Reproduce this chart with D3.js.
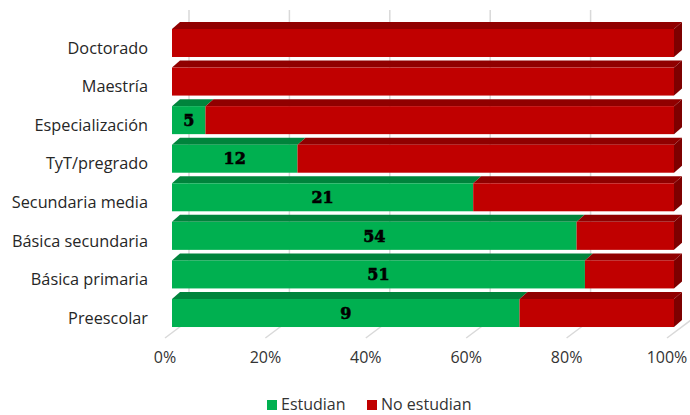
<!DOCTYPE html>
<html>
<head>
<meta charset="utf-8">
<script src="https://cdn.jsdelivr.net/npm/d3@7"></script>
<style>
  html, body { margin: 0; padding: 0; background: #fff; }
  svg { display: block; }
</style>
</head>
<body>
<svg id="chart" width="690" height="415"></svg>
<script>
// ---- data ----
const categories = ["Doctorado", "Maestría", "Especialización", "TyT/pregrado",
                    "Secundaria media", "Básica secundaria", "Básica primaria", "Preescolar"];
const estudian   = [0, 0, 5, 12, 21, 54, 51, 9];
const noEstudian = [2, 6, 70, 36, 14, 13, 11, 4];
const seriesNames = ["Estudian", "No estudian"];
const tickValues = [0, 0.2, 0.4, 0.6, 0.8, 1];

// ---- layout ----
const svg = d3.select("#chart");
const colors = { front: ["#00B050", "#C00000"], top: ["#00843C", "#900000"], side: ["#007A36", "#7E0000"] };
const depth = { dx: 8, dy: -7 };        // bar depth
const floorFront = { dx: -7, dy: 11 };  // floor front relative to bar front
const wallBack = { dx: 17, dy: -7 };    // back wall relative to bar front

const x = d3.scaleLinear().domain([0, 1]).range([172, 674]);
const y = d3.scaleBand().domain(categories).range([23.7, 332.3]).paddingInner(0.274).paddingOuter(0.137);

const rows = categories.map((c, i) => {
  const tot = estudian[i] + noEstudian[i];
  return { cat: c, vals: [estudian[i], noEstudian[i]], tot };
});
const stack = d3.stack().keys([0, 1]).value((d, k) => d.vals[k] / d.tot)(rows);

const floorY = 338, wallBottomY = 320, wallTopY = 10;

// back wall gridlines
svg.append("g").selectAll("line").data(tickValues).join("line")
  .attr("x1", d => x(d) + wallBack.dx).attr("x2", d => x(d) + wallBack.dx)
  .attr("y1", wallTopY).attr("y2", wallBottomY)
  .attr("stroke", "#d9d9d9").attr("stroke-width", 1.5);
// floor diagonals
svg.append("g").selectAll("line").data(tickValues).join("line")
  .attr("x1", d => x(d) + floorFront.dx).attr("y1", floorY)
  .attr("x2", d => x(d) + wallBack.dx).attr("y2", wallBottomY)
  .attr("stroke", "#d9d9d9").attr("stroke-width", 1.5);

// bars
const bars = svg.append("g");
rows.forEach((r, i) => {
  const y0 = y(r.cat), h = y.bandwidth();
  stack.forEach((s, k) => {
    const a = s[i][0], b = s[i][1];
    if (b - a <= 0) return;
    const xa = x(a), xb = x(b);
    bars.append("polygon")
      .attr("points", [[xa, y0], [xa + depth.dx, y0 + depth.dy], [xb + depth.dx, y0 + depth.dy], [xb, y0]].join(" "))
      .attr("fill", colors.top[k]);
    bars.append("rect")
      .attr("x", xa).attr("y", y0).attr("width", xb - xa).attr("height", h)
      .attr("fill", colors.front[k]);
    if (b >= 0.9999) {
      bars.append("polygon")
        .attr("points", [[xb, y0], [xb + depth.dx, y0 + depth.dy], [xb + depth.dx, y0 + h + depth.dy], [xb, y0 + h]].join(" "))
        .attr("fill", colors.side[k]);
    }
  });
});

// data labels (Estudian)
svg.append("g").selectAll("text").data(rows.filter(r => r.vals[0] > 0)).join("text")
  .attr("x", d => x(d.vals[0] / d.tot / 2))
  .attr("y", d => y(d.cat) + y.bandwidth() / 2)
  .attr("dy", "0.36em")
  .attr("text-anchor", "middle")
  .attr("font-family", "DejaVu Serif")
  .attr("font-weight", "bold")
  .attr("font-size", 16)
  .attr("fill", "#000")
  .attr("stroke", "#000").attr("stroke-width", 0.6)
  .text(d => d.vals[0]);

// category labels
svg.append("g").selectAll("text").data(categories).join("text")
  .attr("x", 148)
  .attr("y", d => y(d) + y.bandwidth() / 2 + 5)
  .attr("dy", "0.35em")
  .attr("text-anchor", "end")
  .attr("font-family", "Open Sans, sans-serif")
  .attr("font-size", 16.3)
  .attr("fill", "#262626")
  .text(d => d);

// x tick labels
svg.append("g").selectAll("text").data(tickValues).join("text")
  .attr("x", d => x(d) + floorFront.dx)
  .attr("y", 357)
  .attr("dy", "0.35em")
  .attr("text-anchor", "middle")
  .attr("font-family", "Open Sans, sans-serif")
  .attr("font-size", 16)
  .attr("fill", "#333")
  .text(d3.format(".0%"));

// legend
const legend = svg.append("g");
const legendX = [267, 367];
seriesNames.forEach((n, k) => {
  legend.append("rect").attr("x", legendX[k]).attr("y", 400).attr("width", 10).attr("height", 10)
    .attr("fill", colors.front[k]);
  legend.append("text").attr("x", legendX[k] + 14).attr("y", 410)
    .attr("font-family", "Open Sans, sans-serif").attr("font-size", 16).attr("fill", "#333")
    .text(n);
});
</script>
</body>
</html>
